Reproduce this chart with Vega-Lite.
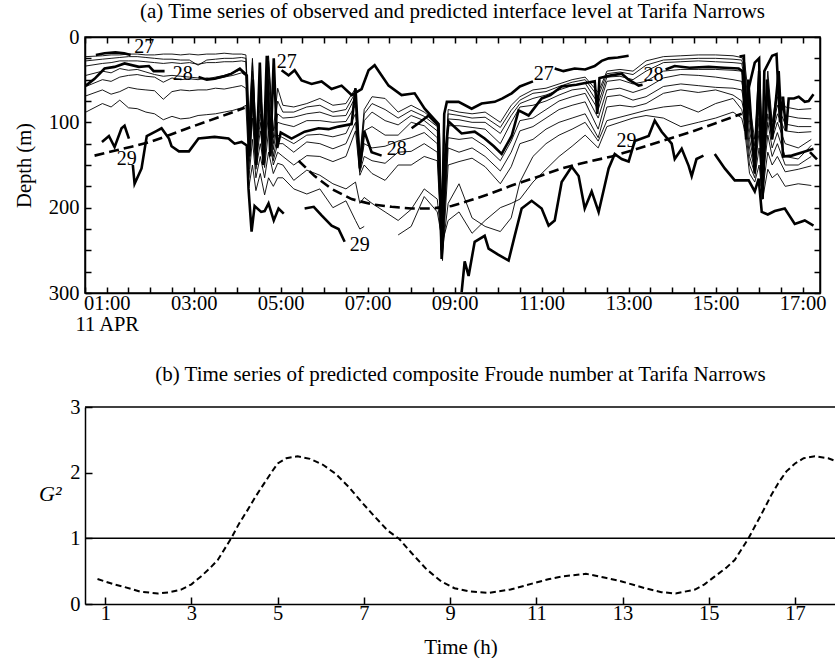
{
  "$schema": "https://vega.github.io/schema/vega-lite/v6.json",
  "padding": {"left": 13, "top": 0, "right": 0, "bottom": 0},
  "spacing": 28,
  "config": {
    "font": "Liberation Serif",
    "view": {"stroke": "black", "strokeWidth": 1.5},
    "axis": {"labelFont": "Liberation Serif", "titleFont": "Liberation Serif", "labelColor": "black", "titleColor": "black", "domainColor": "black", "tickColor": "black", "labelFontSize": 20.5, "titleFontSize": 20.5, "titleFontWeight": "normal", "grid": false, "domainWidth": 1.5, "tickWidth": 1.5, "labelOverlap": false, "labelFlush": false, "labelLineHeight": 21},
    "title": {"font": "Liberation Serif", "fontSize": 21, "fontWeight": "normal", "color": "black"}
  },
  "datasets": {
    "thin": [
      {"t":0.52,"l1":23,"l2":28,"l3":34,"l4":45,"l5":58,"l6":69,"l7":88,"l8":null,"l9":null},
      {"t":0.9,"l1":22,"l2":26,"l3":31,"l4":40,"l5":50,"l6":62,"l7":78,"l8":null,"l9":null},
      {"t":1.1,"l1":21,"l2":25,"l3":30,"l4":42,"l5":52,"l6":67,"l7":82,"l8":null,"l9":null},
      {"t":1.3,"l1":21,"l2":24,"l3":28,"l4":37,"l5":47,"l6":64,"l7":74,"l8":null,"l9":null},
      {"t":1.5,"l1":20,"l2":23,"l3":28,"l4":39,"l5":45,"l6":59,"l7":83,"l8":null,"l9":null},
      {"t":1.7,"l1":20,"l2":23,"l3":28,"l4":38,"l5":44,"l6":61,"l7":84,"l8":null,"l9":null},
      {"t":1.9,"l1":21,"l2":24,"l3":29,"l4":41,"l5":46,"l6":62,"l7":88,"l8":null,"l9":null},
      {"t":2.1,"l1":21,"l2":25,"l3":30,"l4":44,"l5":47,"l6":63,"l7":90,"l8":null,"l9":null},
      {"t":2.3,"l1":20,"l2":26,"l3":31,"l4":46,"l5":53,"l6":73,"l7":97,"l8":null,"l9":null},
      {"t":2.5,"l1":20,"l2":26,"l3":30,"l4":45,"l5":48,"l6":64,"l7":93,"l8":null,"l9":null},
      {"t":2.7,"l1":21,"l2":27,"l3":31,"l4":46,"l5":50,"l6":62,"l7":96,"l8":null,"l9":null},
      {"t":2.9,"l1":20,"l2":27,"l3":30,"l4":47,"l5":49,"l6":63,"l7":95,"l8":null,"l9":null},
      {"t":3.1,"l1":21,"l2":33,"l3":32,"l4":48,"l5":50,"l6":62,"l7":92,"l8":null,"l9":null},
      {"t":3.3,"l1":20,"l2":27,"l3":30,"l4":49,"l5":48,"l6":62,"l7":91,"l8":null,"l9":null},
      {"t":3.5,"l1":20,"l2":26,"l3":30,"l4":47,"l5":49,"l6":60,"l7":90,"l8":null,"l9":null},
      {"t":3.7,"l1":19,"l2":25,"l3":29,"l4":45,"l5":47,"l6":61,"l7":88,"l8":null,"l9":null},
      {"t":3.9,"l1":20,"l2":25,"l3":29,"l4":42,"l5":45,"l6":59,"l7":86,"l8":null,"l9":null},
      {"t":4.1,"l1":20,"l2":24,"l3":28,"l4":38,"l5":42,"l6":57,"l7":83,"l8":null,"l9":null},
      {"t":4.2,"l1":21,"l2":25,"l3":29,"l4":42,"l5":45,"l6":60,"l7":80,"l8":null,"l9":null},
      {"t":4.27,"l1":100,"l2":110,"l3":120,"l4":130,"l5":138,"l6":145,"l7":155,"l8":165,"l9":175},
      {"t":4.35,"l1":25,"l2":30,"l3":40,"l4":55,"l5":65,"l6":80,"l7":95,"l8":120,"l9":150},
      {"t":4.43,"l1":110,"l2":118,"l3":125,"l4":135,"l5":140,"l6":148,"l7":155,"l8":165,"l9":180},
      {"t":4.53,"l1":60,"l2":70,"l3":80,"l4":90,"l5":100,"l6":110,"l7":125,"l8":140,"l9":160},
      {"t":4.63,"l1":115,"l2":120,"l3":128,"l4":135,"l5":142,"l6":148,"l7":153,"l8":165,"l9":185},
      {"t":4.72,"l1":22,"l2":28,"l3":35,"l4":50,"l5":65,"l6":85,"l7":110,"l8":135,"l9":165},
      {"t":4.83,"l1":110,"l2":118,"l3":125,"l4":132,"l5":140,"l6":145,"l7":150,"l8":160,"l9":175},
      {"t":4.93,"l1":60,"l2":75,"l3":90,"l4":100,"l5":115,"l6":125,"l7":135,"l8":148,"l9":165},
      {"t":5.05,"l1":80,"l2":88,"l3":95,"l4":102,"l5":118,"l6":125,"l7":140,"l8":150,"l9":165},
      {"t":5.3,"l1":82,"l2":88,"l3":94,"l4":105,"l5":125,"l6":135,"l7":150,"l8":168,"l9":178},
      {"t":5.6,"l1":78,"l2":82,"l3":90,"l4":98,"l5":115,"l6":123,"l7":139,"l8":156,"l9":184},
      {"t":5.9,"l1":72,"l2":80,"l3":88,"l4":98,"l5":114,"l6":125,"l7":140,"l8":162,"l9":178},
      {"t":6.2,"l1":80,"l2":88,"l3":93,"l4":100,"l5":117,"l6":131,"l7":146,"l8":172,"l9":200},
      {"t":6.5,"l1":78,"l2":85,"l3":92,"l4":99,"l5":113,"l6":125,"l7":140,"l8":178,"l9":192},
      {"t":6.72,"l1":60,"l2":65,"l3":70,"l4":80,"l5":90,"l6":100,"l7":110,"l8":170,"l9":215},
      {"t":6.82,"l1":140,"l2":145,"l3":148,"l4":152,"l5":155,"l6":158,"l7":162,"l8":195,"l9":225},
      {"t":6.92,"l1":85,"l2":90,"l3":98,"l4":110,"l5":125,"l6":140,"l7":150,"l8":188,"l9":222},
      {"t":7.1,"l1":70,"l2":78,"l3":88,"l4":105,"l5":130,"l6":145,"l7":160,"l8":195,"l9":null},
      {"t":7.4,"l1":72,"l2":85,"l3":98,"l4":115,"l5":128,"l6":148,"l7":168,"l8":205,"l9":null},
      {"t":7.7,"l1":88,"l2":95,"l3":103,"l4":115,"l5":122,"l6":135,"l7":150,"l8":215,"l9":232},
      {"t":8.0,"l1":80,"l2":86,"l3":92,"l4":100,"l5":118,"l6":134,"l7":150,"l8":202,"l9":222},
      {"t":8.3,"l1":88,"l2":93,"l3":98,"l4":104,"l5":112,"l6":125,"l7":140,"l8":178,"l9":187},
      {"t":8.6,"l1":100,"l2":105,"l3":110,"l4":118,"l5":125,"l6":135,"l7":145,"l8":190,"l9":205},
      {"t":8.72,"l1":230,"l2":235,"l3":240,"l4":245,"l5":250,"l6":255,"l7":262,"l8":250,"l9":240},
      {"t":8.85,"l1":85,"l2":90,"l3":96,"l4":104,"l5":118,"l6":130,"l7":150,"l8":195,"l9":215},
      {"t":9.1,"l1":88,"l2":92,"l3":97,"l4":104,"l5":120,"l6":135,"l7":146,"l8":172,"l9":205},
      {"t":9.4,"l1":90,"l2":95,"l3":100,"l4":106,"l5":118,"l6":130,"l7":142,"l8":212,"l9":230},
      {"t":9.7,"l1":88,"l2":94,"l3":100,"l4":108,"l5":128,"l6":140,"l7":152,"l8":222,"l9":215},
      {"t":10.05,"l1":100,"l2":106,"l3":113,"l4":125,"l5":145,"l6":157,"l7":172,"l8":228,"l9":200},
      {"t":10.3,"l1":80,"l2":86,"l3":92,"l4":100,"l5":122,"l6":135,"l7":152,"l8":212,"l9":195},
      {"t":10.5,"l1":70,"l2":74,"l3":78,"l4":82,"l5":98,"l6":110,"l7":125,"l8":170,"l9":190},
      {"t":10.8,"l1":62,"l2":66,"l3":72,"l4":80,"l5":95,"l6":105,"l7":120,"l8":140,"l9":170},
      {"t":11.1,"l1":60,"l2":64,"l3":68,"l4":75,"l5":85,"l6":95,"l7":108,"l8":125,"l9":155},
      {"t":11.4,"l1":55,"l2":58,"l3":62,"l4":68,"l5":75,"l6":85,"l7":100,"l8":115,"l9":140},
      {"t":11.7,"l1":50,"l2":53,"l3":57,"l4":62,"l5":70,"l6":80,"l7":95,"l8":108,"l9":128},
      {"t":12.0,"l1":47,"l2":50,"l3":54,"l4":60,"l5":66,"l6":76,"l7":90,"l8":100,"l9":115},
      {"t":12.3,"l1":65,"l2":70,"l3":78,"l4":85,"l5":95,"l6":108,"l7":118,"l8":122,"l9":130},
      {"t":12.5,"l1":40,"l2":43,"l3":47,"l4":52,"l5":62,"l6":70,"l7":82,"l8":98,"l9":105},
      {"t":12.8,"l1":38,"l2":41,"l3":46,"l4":50,"l5":60,"l6":68,"l7":80,"l8":94,"l9":100},
      {"t":13.1,"l1":40,"l2":44,"l3":50,"l4":55,"l5":65,"l6":74,"l7":82,"l8":90,"l9":95},
      {"t":13.4,"l1":28,"l2":33,"l3":40,"l4":52,"l5":60,"l6":70,"l7":78,"l8":86,"l9":92},
      {"t":13.8,"l1":23,"l2":27,"l3":30,"l4":40,"l5":48,"l6":58,"l7":66,"l8":82,"l9":95},
      {"t":14.2,"l1":22,"l2":26,"l3":29,"l4":38,"l5":44,"l6":55,"l7":62,"l8":80,"l9":105},
      {"t":14.6,"l1":21,"l2":25,"l3":28,"l4":38,"l5":45,"l6":57,"l7":65,"l8":88,"l9":100},
      {"t":15.0,"l1":21,"l2":25,"l3":29,"l4":38,"l5":47,"l6":59,"l7":62,"l8":78,"l9":95},
      {"t":15.4,"l1":22,"l2":26,"l3":30,"l4":39,"l5":50,"l6":60,"l7":68,"l8":72,"l9":88},
      {"t":15.6,"l1":24,"l2":27,"l3":31,"l4":40,"l5":52,"l6":62,"l7":75,"l8":85,"l9":95},
      {"t":15.67,"l1":30,"l2":40,"l3":50,"l4":60,"l5":70,"l6":80,"l7":90,"l8":100,"l9":110},
      {"t":15.78,"l1":80,"l2":90,"l3":100,"l4":110,"l5":120,"l6":130,"l7":140,"l8":150,"l9":160},
      {"t":15.9,"l1":120,"l2":128,"l3":135,"l4":142,"l5":150,"l6":155,"l7":160,"l8":165,"l9":170},
      {"t":16.0,"l1":30,"l2":40,"l3":50,"l4":65,"l5":80,"l6":95,"l7":110,"l8":130,"l9":150},
      {"t":16.08,"l1":140,"l2":145,"l3":150,"l4":155,"l5":160,"l6":165,"l7":170,"l8":180,"l9":190},
      {"t":16.2,"l1":40,"l2":50,"l3":60,"l4":75,"l5":90,"l6":100,"l7":115,"l8":135,"l9":155},
      {"t":16.3,"l1":100,"l2":105,"l3":110,"l4":115,"l5":120,"l6":130,"l7":140,"l8":150,"l9":165},
      {"t":16.42,"l1":60,"l2":70,"l3":80,"l4":90,"l5":100,"l6":112,"l7":125,"l8":140,"l9":160},
      {"t":16.6,"l1":82,"l2":92,"l3":102,"l4":110,"l5":125,"l6":140,"l7":150,"l8":158,"l9":175},
      {"t":16.9,"l1":85,"l2":95,"l3":105,"l4":112,"l5":130,"l6":143,"l7":150,"l8":155,"l9":172},
      {"t":17.2,"l1":84,"l2":96,"l3":105,"l4":111,"l5":120,"l6":127,"l7":140,"l8":151,"l9":174}
    ],
    "thick": [
      {"s":"27a","t":0.75,"z":21},{"s":"27a","t":0.95,"z":19},{"s":"27a","t":1.2,"z":18},{"s":"27a","t":1.4,"z":19},{"s":"27a","t":1.55,"z":21},
      {"s":"27b","t":5.02,"z":39},{"s":"27b","t":5.18,"z":45},{"s":"27b","t":5.32,"z":39},{"s":"27b","t":5.48,"z":51},{"s":"27b","t":5.71,"z":55},{"s":"27b","t":5.94,"z":52},{"s":"27b","t":6.17,"z":61},{"s":"27b","t":6.4,"z":57},{"s":"27b","t":6.63,"z":68},{"s":"27b","t":6.86,"z":61},{"s":"27b","t":7.02,"z":39},{"s":"27b","t":7.16,"z":33},{"s":"27b","t":7.32,"z":45},{"s":"27b","t":7.48,"z":57},{"s":"27b","t":7.78,"z":68},{"s":"27b","t":8.08,"z":66},{"s":"27b","t":8.31,"z":84},{"s":"27b","t":8.63,"z":102},{"s":"27b","t":8.7,"z":250},{"s":"27b","t":8.76,"z":90},{"s":"27b","t":8.82,"z":76},{"s":"27b","t":9.09,"z":76},{"s":"27b","t":9.39,"z":84},{"s":"27b","t":9.62,"z":78},{"s":"27b","t":9.92,"z":76},{"s":"27b","t":10.1,"z":72},{"s":"27b","t":10.31,"z":66},{"s":"27b","t":10.5,"z":58},{"s":"27b","t":10.8,"z":52},
      {"s":"27c","t":11.3,"z":37},{"s":"27c","t":11.5,"z":40},{"s":"27c","t":11.76,"z":37},{"s":"27c","t":12.0,"z":38},{"s":"27c","t":12.22,"z":34},{"s":"27c","t":12.38,"z":28},{"s":"27c","t":12.54,"z":25},{"s":"27c","t":12.75,"z":24},{"s":"27c","t":13.0,"z":22},
      {"s":"27d","t":15.55,"z":23},{"s":"27d","t":15.65,"z":22},{"s":"27d","t":15.7,"z":120},{"s":"27d","t":15.76,"z":60},{"s":"27d","t":15.9,"z":30},{"s":"27d","t":16.0,"z":25},{"s":"27d","t":16.06,"z":175},{"s":"27d","t":16.12,"z":40},{"s":"27d","t":16.3,"z":22},{"s":"27d","t":16.4,"z":20},{"s":"27d","t":16.48,"z":100},{"s":"27d","t":16.55,"z":70},{"s":"27d","t":16.62,"z":110},{"s":"27d","t":16.68,"z":72},{"s":"27d","t":16.8,"z":72},{"s":"27d","t":16.91,"z":70},{"s":"27d","t":17.05,"z":76},{"s":"27d","t":17.14,"z":75},{"s":"27d","t":17.25,"z":67},
      {"s":"28a","t":0.52,"z":57},{"s":"28a","t":0.72,"z":49},{"s":"28a","t":0.95,"z":37},{"s":"28a","t":1.18,"z":35},{"s":"28a","t":1.41,"z":31},{"s":"28a","t":1.74,"z":35},{"s":"28a","t":1.97,"z":34},{"s":"28a","t":2.08,"z":40},{"s":"28a","t":2.33,"z":40},
      {"s":"28b","t":3.11,"z":47},{"s":"28b","t":3.3,"z":50},{"s":"28b","t":3.48,"z":49},{"s":"28b","t":3.7,"z":46},{"s":"28b","t":3.87,"z":43},{"s":"28b","t":4.06,"z":37},{"s":"28b","t":4.17,"z":43},{"s":"28b","t":4.22,"z":45},{"s":"28b","t":4.28,"z":140},{"s":"28b","t":4.36,"z":50},{"s":"28b","t":4.44,"z":150},{"s":"28b","t":4.52,"z":30},{"s":"28b","t":4.6,"z":150},{"s":"28b","t":4.68,"z":22},{"s":"28b","t":4.76,"z":140},{"s":"28b","t":4.84,"z":25},{"s":"28b","t":4.92,"z":130},{"s":"28b","t":5.0,"z":112},{"s":"28b","t":5.25,"z":119},{"s":"28b","t":5.55,"z":111},{"s":"28b","t":5.87,"z":107},{"s":"28b","t":6.1,"z":108},{"s":"28b","t":6.33,"z":105},{"s":"28b","t":6.63,"z":102},{"s":"28b","t":6.72,"z":60},{"s":"28b","t":6.82,"z":154},{"s":"28b","t":6.92,"z":110},{"s":"28b","t":7.09,"z":135},{"s":"28b","t":7.32,"z":139},
      {"s":"28c","t":8.01,"z":107},{"s":"28c","t":8.2,"z":100},{"s":"28c","t":8.4,"z":92},{"s":"28c","t":8.63,"z":104},{"s":"28c","t":8.7,"z":260},{"s":"28c","t":8.76,"z":150},{"s":"28c","t":8.86,"z":99},{"s":"28c","t":9.16,"z":113},{"s":"28c","t":9.46,"z":111},{"s":"28c","t":9.69,"z":119},{"s":"28c","t":9.9,"z":128},{"s":"28c","t":10.08,"z":137},{"s":"28c","t":10.31,"z":116},{"s":"28c","t":10.47,"z":86},{"s":"28c","t":10.7,"z":92},{"s":"28c","t":11.0,"z":72},{"s":"28c","t":11.2,"z":68},{"s":"28c","t":11.46,"z":58},{"s":"28c","t":11.8,"z":56},{"s":"28c","t":12.0,"z":54},{"s":"28c","t":12.22,"z":52},{"s":"28c","t":12.28,"z":90},{"s":"28c","t":12.33,"z":48},{"s":"28c","t":12.6,"z":45},{"s":"28c","t":12.84,"z":43},{"s":"28c","t":13.0,"z":50},{"s":"28c","t":13.23,"z":57},{"s":"28c","t":13.32,"z":56},
      {"s":"28d","t":13.85,"z":38},{"s":"28d","t":14.06,"z":34},{"s":"28d","t":14.4,"z":36},{"s":"28d","t":14.84,"z":35},{"s":"28d","t":15.2,"z":36},{"s":"28d","t":15.53,"z":37},{"s":"28d","t":15.62,"z":40},{"s":"28d","t":15.68,"z":110},{"s":"28d","t":15.75,"z":50},{"s":"28d","t":15.9,"z":160},{"s":"28d","t":16.0,"z":40},{"s":"28d","t":16.08,"z":190},{"s":"28d","t":16.18,"z":50},{"s":"28d","t":16.3,"z":120},{"s":"28d","t":16.45,"z":40},{"s":"28d","t":16.55,"z":140},{"s":"28d","t":16.75,"z":139},{"s":"28d","t":17.0,"z":135},{"s":"28d","t":17.25,"z":131},
      {"s":"29a","t":0.89,"z":123},{"s":"29a","t":1.05,"z":116},{"s":"29a","t":1.18,"z":129},{"s":"29a","t":1.34,"z":107},{"s":"29a","t":1.41,"z":104},{"s":"29a","t":1.51,"z":119},
      {"s":"29b","t":1.6,"z":150},{"s":"29b","t":1.64,"z":172},{"s":"29b","t":1.8,"z":154},{"s":"29b","t":1.92,"z":116},{"s":"29b","t":2.15,"z":110},{"s":"29b","t":2.26,"z":107},{"s":"29b","t":2.43,"z":119},{"s":"29b","t":2.49,"z":128},{"s":"29b","t":2.66,"z":134},{"s":"29b","t":2.89,"z":134},{"s":"29b","t":3.11,"z":119},{"s":"29b","t":3.48,"z":117},{"s":"29b","t":3.8,"z":119},{"s":"29b","t":3.94,"z":125},{"s":"29b","t":4.1,"z":123},{"s":"29b","t":4.22,"z":127},{"s":"29b","t":4.26,"z":178},{"s":"29b","t":4.33,"z":228},{"s":"29b","t":4.4,"z":198},{"s":"29b","t":4.55,"z":205},{"s":"29b","t":4.63,"z":204},{"s":"29b","t":4.72,"z":195},{"s":"29b","t":4.84,"z":215},{"s":"29b","t":4.95,"z":201},{"s":"29b","t":5.07,"z":207},
      {"s":"29c","t":5.55,"z":201},{"s":"29c","t":5.76,"z":199},{"s":"29c","t":5.94,"z":209},{"s":"29c","t":6.17,"z":221},{"s":"29c","t":6.33,"z":225},{"s":"29c","t":6.47,"z":240},
      {"s":"29d","t":9.16,"z":299},{"s":"29d","t":9.23,"z":263},{"s":"29d","t":9.32,"z":280},{"s":"29d","t":9.46,"z":240},{"s":"29d","t":9.69,"z":233},{"s":"29d","t":9.78,"z":248},{"s":"29d","t":10.0,"z":255},{"s":"29d","t":10.24,"z":262},{"s":"29d","t":10.38,"z":233},{"s":"29d","t":10.54,"z":201},{"s":"29d","t":10.77,"z":192},{"s":"29d","t":11.0,"z":201},{"s":"29d","t":11.16,"z":221},{"s":"29d","t":11.3,"z":215},{"s":"29d","t":11.46,"z":170},{"s":"29d","t":11.69,"z":152},{"s":"29d","t":11.85,"z":163},{"s":"29d","t":11.99,"z":201},{"s":"29d","t":12.15,"z":181},{"s":"29d","t":12.31,"z":205},{"s":"29d","t":12.45,"z":174},{"s":"29d","t":12.54,"z":154},{"s":"29d","t":12.68,"z":137},{"s":"29d","t":12.84,"z":143},{"s":"29d","t":13.0,"z":146},{"s":"29d","t":13.14,"z":122},{"s":"29d","t":13.46,"z":116},{"s":"29d","t":13.6,"z":98},{"s":"29d","t":13.76,"z":111},{"s":"29d","t":13.99,"z":125},{"s":"29d","t":14.06,"z":143},{"s":"29d","t":14.22,"z":131},{"s":"29d","t":14.38,"z":151},{"s":"29d","t":14.45,"z":163},{"s":"29d","t":14.56,"z":143},{"s":"29d","t":14.72,"z":139},
      {"s":"29e","t":14.98,"z":137},{"s":"29e","t":15.21,"z":154},{"s":"29e","t":15.44,"z":168},{"s":"29e","t":15.76,"z":168},{"s":"29e","t":15.9,"z":181},{"s":"29e","t":15.99,"z":166},{"s":"29e","t":16.06,"z":205},{"s":"29e","t":16.2,"z":208},{"s":"29e","t":16.36,"z":204},{"s":"29e","t":16.59,"z":201},{"s":"29e","t":16.82,"z":219},{"s":"29e","t":17.05,"z":215},{"s":"29e","t":17.25,"z":221}
    ],
    "pred": [
      {"s":"pa","t":0.72,"z":139},{"s":"pa","t":1.2,"z":133},{"s":"pa","t":1.57,"z":128.6},{"s":"pa","t":2.0,"z":123},{"s":"pa","t":2.33,"z":117},{"s":"pa","t":2.8,"z":108},{"s":"pa","t":3.3,"z":99},{"s":"pa","t":3.8,"z":90},{"s":"pa","t":4.17,"z":83},
      {"s":"pb","t":5.41,"z":145},{"s":"pb","t":5.78,"z":163},{"s":"pb","t":6.17,"z":178},{"s":"pb","t":6.63,"z":190},{"s":"pb","t":7.09,"z":196},{"s":"pb","t":7.55,"z":199},{"s":"pb","t":8.01,"z":201},{"s":"pb","t":8.47,"z":201},{"s":"pb","t":8.93,"z":198},{"s":"pb","t":9.32,"z":192},{"s":"pb","t":9.8,"z":184},{"s":"pb","t":10.31,"z":174},{"s":"pb","t":10.9,"z":164},{"s":"pb","t":11.46,"z":154},{"s":"pb","t":12.0,"z":147},{"s":"pb","t":12.61,"z":140},{"s":"pb","t":13.2,"z":131},{"s":"pb","t":13.76,"z":122},{"s":"pb","t":14.45,"z":111},{"s":"pb","t":15.0,"z":101},{"s":"pb","t":15.6,"z":90},
      {"s":"pc","t":17.17,"z":135},{"s":"pc","t":17.4,"z":147}
    ],
    "labels": [
      {"t":1.86,"z":12,"txt":"27"},{"t":5.14,"z":29,"txt":"27"},{"t":11.05,"z":43,"txt":"27"},
      {"t":2.75,"z":43.6,"txt":"28"},{"t":7.67,"z":131,"txt":"28"},{"t":13.57,"z":44,"txt":"28"},
      {"t":1.46,"z":143,"txt":"29"},{"t":6.82,"z":244,"txt":"29"},{"t":12.95,"z":122,"txt":"29"}
    ],
    "g2": [
      {"t":0.82,"g":0.38},{"t":1.2,"g":0.3},{"t":1.44,"g":0.26},{"t":1.8,"g":0.19},{"t":2.22,"g":0.16},{"t":2.5,"g":0.18},{"t":2.76,"g":0.22},{"t":3.0,"g":0.3},{"t":3.22,"g":0.42},{"t":3.42,"g":0.54},{"t":3.61,"g":0.67},{"t":3.92,"g":1.0},{"t":4.1,"g":1.22},{"t":4.3,"g":1.43},{"t":4.5,"g":1.65},{"t":4.69,"g":1.84},{"t":4.85,"g":2.0},{"t":5.0,"g":2.14},{"t":5.2,"g":2.22},{"t":5.46,"g":2.25},{"t":5.75,"g":2.21},{"t":6.05,"g":2.12},{"t":6.35,"g":1.98},{"t":6.65,"g":1.78},{"t":6.95,"g":1.55},{"t":7.25,"g":1.33},{"t":7.55,"g":1.12},{"t":7.82,"g":0.99},{"t":8.1,"g":0.78},{"t":8.45,"g":0.53},{"t":8.8,"g":0.34},{"t":9.1,"g":0.24},{"t":9.45,"g":0.19},{"t":9.9,"g":0.17},{"t":10.4,"g":0.22},{"t":10.9,"g":0.31},{"t":11.3,"g":0.38},{"t":11.6,"g":0.42},{"t":12.15,"g":0.46},{"t":12.6,"g":0.4},{"t":13.0,"g":0.34},{"t":13.52,"g":0.24},{"t":13.9,"g":0.18},{"t":14.23,"g":0.16},{"t":14.68,"g":0.22},{"t":14.9,"g":0.3},{"t":15.14,"g":0.42},{"t":15.4,"g":0.55},{"t":15.6,"g":0.67},{"t":15.92,"g":1.0},{"t":16.23,"g":1.38},{"t":16.45,"g":1.66},{"t":16.61,"g":1.84},{"t":16.8,"g":2.02},{"t":17.0,"g":2.14},{"t":17.2,"g":2.22},{"t":17.46,"g":2.25},{"t":17.77,"g":2.22},{"t":17.97,"g":2.17}
    ],
    "refs": [{"g":1},{"g":3}]
  },
  "vconcat": [
    {
      "title": {"text": "(a) Time series of observed and predicted interface level at Tarifa Narrows", "offset": 5},
      "width": 735,
      "height": 256,
      "layer": [
        {
          "data": {"name": "thin"},
          "transform": [{"fold": ["l1","l2","l3","l4","l5","l6","l7","l8","l9"], "as": ["line","z"]}],
          "mark": {"type": "line", "color": "black", "strokeWidth": 0.9, "invalid": "break-paths-filter-domains"},
          "encoding": {
            "x": {"field": "t", "type": "quantitative", "scale": {"domain": [0.5, 17.4], "nice": false, "zero": false},
                  "axis": {"orient": "bottom", "title": null, "tickSize": -6, "labelPadding": 6,
                           "values": [0.5,1,1.5,2,2.5,3,3.5,4,4.5,5,5.5,6,6.5,7,7.5,8,8.5,9,9.5,10,10.5,11,11.5,12,12.5,13,13.5,14,14.5,15,15.5,16,16.5,17],
                           "labelExpr": "datum.value == 1 ? ['01:00','11 APR'] : (datum.value % 2 == 1 ? (datum.value < 10 ? '0' : '') + datum.value + ':00' : '')"}},
            "y": {"field": "z", "type": "quantitative", "scale": {"domain": [0, 300], "reverse": true, "nice": false, "zero": false},
                  "axis": {"orient": "left", "title": "Depth (m)", "tickSize": -6, "labelPadding": 12, "titlePadding": 14,
                           "values": [0,25,50,75,100,125,150,175,200,225,250,275,300],
                           "labelExpr": "datum.value % 100 == 0 ? format(datum.value, 'd') : ''"}},
            "detail": {"field": "line"}
          }
        },
        {
          "data": {"name": "thick"},
          "mark": {"type": "line", "color": "black", "strokeWidth": 2.6},
          "encoding": {
            "x": {"field": "t", "type": "quantitative", "scale": {"domain": [0.5, 17.4], "nice": false, "zero": false},
                  "axis": {"orient": "top", "title": null, "labels": false, "tickSize": -6,
                           "values": [0.5,1,1.5,2,2.5,3,3.5,4,4.5,5,5.5,6,6.5,7,7.5,8,8.5,9,9.5,10,10.5,11,11.5,12,12.5,13,13.5,14,14.5,15,15.5,16,16.5,17]}},
            "y": {"field": "z", "type": "quantitative", "scale": {"domain": [0, 300], "reverse": true, "nice": false, "zero": false},
                  "axis": {"orient": "right", "title": null, "labels": false, "tickSize": -6,
                           "values": [0,25,50,75,100,125,150,175,200,225,250,275,300]}},
            "detail": {"field": "s"}
          }
        },
        {
          "data": {"name": "pred"},
          "mark": {"type": "line", "color": "black", "strokeWidth": 2.6, "strokeDash": [10, 5]},
          "encoding": {
            "x": {"field": "t", "type": "quantitative", "axis": null},
            "y": {"field": "z", "type": "quantitative", "axis": null},
            "detail": {"field": "s"}
          }
        },
        {
          "data": {"name": "labels"},
          "mark": {"type": "text", "font": "Liberation Serif", "fontSize": 20, "color": "black", "align": "center", "baseline": "middle"},
          "encoding": {
            "x": {"field": "t", "type": "quantitative", "axis": null},
            "y": {"field": "z", "type": "quantitative", "axis": null},
            "text": {"field": "txt"}
          }
        }
      ],
      "resolve": {"axis": {"x": "independent", "y": "independent"}}
    },
    {
      "title": {"text": "(b) Time series of predicted composite Froude number  at Tarifa Narrows", "offset": 12},
      "width": 751,
      "height": 197,
      "view": {"stroke": null},
      "layer": [
        {
          "data": {"name": "refs"},
          "mark": {"type": "rule", "color": "black", "strokeWidth": 1.5},
          "encoding": {
            "y": {"field": "g", "type": "quantitative", "scale": {"domain": [0, 3], "nice": false, "zero": false},
                  "axis": {"orient": "left", "title": "G²", "titleAngle": 0, "titleFontStyle": "italic", "titleFontSize": 22, "titleAlign": "center", "titlePadding": 20,
                           "tickSize": -7, "labelPadding": 12,
                           "values": [0,0.5,1,1.5,2,2.5,3],
                           "labelExpr": "datum.value % 1 == 0 ? format(datum.value, 'd') : ''"}}
          }
        },
        {
          "data": {"name": "g2"},
          "mark": {"type": "line", "color": "black", "strokeWidth": 2, "strokeDash": [6, 3.5]},
          "encoding": {
            "x": {"field": "t", "type": "quantitative", "scale": {"domain": [0.53, 17.95], "nice": false, "zero": false},
                  "axis": {"orient": "bottom", "title": "Time (h)", "titleFontSize": 21, "tickSize": -7, "labelPadding": 6, "titlePadding": 13,
                           "values": [1,3,5,7,9,11,13,15,17]}},
            "y": {"field": "g", "type": "quantitative"}
          }
        }
      ]
    }
  ]
}
